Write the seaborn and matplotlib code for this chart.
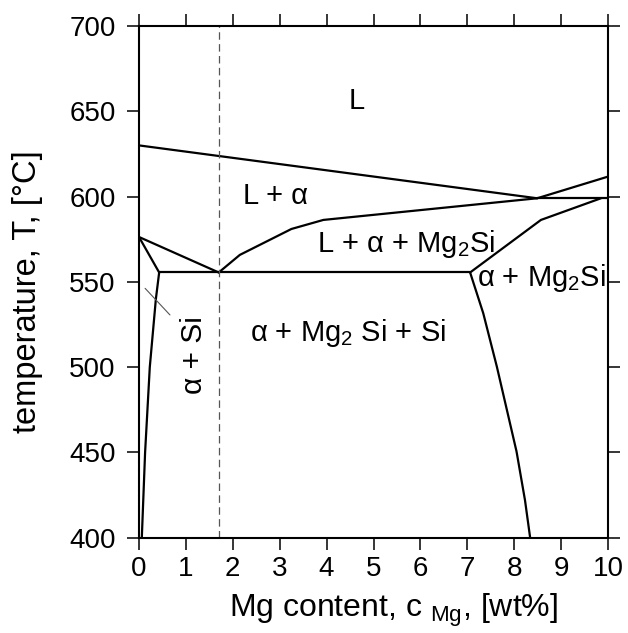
import matplotlib
matplotlib.use("Agg")
import matplotlib.pyplot as plt
import seaborn as sns
import pandas as pd

# ---- data ----
liquidus_x = [0.0, 8.49, 10.0]
liquidus_T = [630.0, 599.0, 611.7]

quasi_eut_x = [8.49, 10.0]
quasi_eut_T = [599.0, 599.0]

la_lower_x = [1.70, 2.15, 3.25, 3.93, 8.49]
la_lower_T = [555.5, 565.8, 581.0, 586.3, 599.0]

amg_upper_x = [7.06, 8.57, 9.85]
amg_upper_T = [555.5, 586.3, 599.0]

left_liq_x = [0.0, 1.70]
left_liq_T = [576.3, 555.5]

left_sol_top_x = [0.0, 0.43]
left_sol_top_T = [576.3, 555.5]

eutectic_x = [0.43, 7.06]
eutectic_T = [555.5, 555.5]

left_solvus_x = [0.43, 0.36, 0.23, 0.13, 0.06]
left_solvus_T = [555.5, 540.0, 500.0, 450.0, 400.0]

right_solvus_x = [7.06, 7.34, 7.63, 8.05, 8.23, 8.34]
right_solvus_T = [555.5, 531.6, 500.3, 450.5, 422.0, 400.0]

leader_x = [0.13, 0.66]
leader_T = [546.2, 530.6]

alloy_x = [1.70, 1.70]
alloy_T = [400.0, 700.0]

x_ticks = [0, 1, 2, 3, 4, 5, 6, 7, 8, 9, 10]
y_ticks = [400, 450, 500, 550, 600, 650, 700]

labels = ["L", "L + α", "L + α + Mg$_2$Si", "α + Mg$_2$Si", "α + Mg$_2$ Si + Si"]
label_x = [4.64, 2.92, 5.69, 8.57, 4.45]
label_T = [651.2, 595.5, 567.5, 547.6, 515.5]

rot_label = "α + Si"
rot_label_x = 1.17
rot_label_T = 507.0

# ---- style ----
sns.set_style("ticks")
plt.rcParams["font.family"] = ["Liberation Sans", "DejaVu Sans"]
plt.rcParams["mathtext.default"] = "regular"

fig = plt.figure(figsize=(6.28, 6.33), dpi=100)
ax = fig.add_axes([139 / 628, 1 - 537.7 / 633, 469 / 628, 511.7 / 633])

segments = [
    (liquidus_x, liquidus_T),
    (quasi_eut_x, quasi_eut_T),
    (la_lower_x, la_lower_T),
    (amg_upper_x, amg_upper_T),
    (left_liq_x, left_liq_T),
    (left_sol_top_x, left_sol_top_T),
    (eutectic_x, eutectic_T),
    (left_solvus_x, left_solvus_T),
    (right_solvus_x, right_solvus_T),
]
rows = []
for i, (xs, ts) in enumerate(segments):
    for x, t in zip(xs, ts):
        rows.append({"seg": i, "x": x, "T": t})
df = pd.DataFrame(rows)

sns.lineplot(data=df, x="x", y="T", units="seg", estimator=None, sort=False,
             color="black", lw=1.6, ax=ax)

df_leader = pd.DataFrame({"x": leader_x, "T": leader_T})
sns.lineplot(data=df_leader, x="x", y="T", estimator=None, sort=False,
             color="#555555", lw=0.8, ax=ax)

df_alloy = pd.DataFrame({"x": alloy_x, "T": alloy_T})
sns.lineplot(data=df_alloy, x="x", y="T", estimator=None, sort=False,
             color="#555555", lw=0.9, dashes=False, ax=ax)
ax.lines[-1].set_dashes((6, 3.5))

for s, x, t in zip(labels, label_x, label_T):
    ax.text(x, t, s, ha="center", va="baseline", fontsize=21, color="black")
ax.text(rot_label_x, rot_label_T, rot_label, ha="center", va="center",
        rotation=90, fontsize=21.5, color="black")

ax.set_xlim(0, 10)
ax.set_ylim(400, 700)
ax.set_xticks(x_ticks)
ax.set_yticks(y_ticks)
ax.set_xticklabels([str(v) for v in x_ticks])
ax.set_yticklabels([str(v) for v in y_ticks])
ax.tick_params(axis="both", which="both", direction="out", length=8.4, width=1.1,
               top=True, right=True, labeltop=False, labelright=False,
               labelsize=20, colors="black")
ax.tick_params(axis="y", pad=8.5)
ax.tick_params(axis="x", pad=5)
for sp in ax.spines.values():
    sp.set_visible(True)
    sp.set_linewidth(1.5)
    sp.set_color("black")

ax.set_xlabel("Mg content, c $_{Mg}$, [wt%]", fontsize=23, color="black")
ax.set_ylabel("temperature, T, [°C]", fontsize=23.5, color="black")
ax.xaxis.set_label_coords(0.5416, -0.105)
ax.yaxis.set_label_coords(-0.204, 0.48)

fig.savefig("out.png", dpi=100, facecolor="white")
